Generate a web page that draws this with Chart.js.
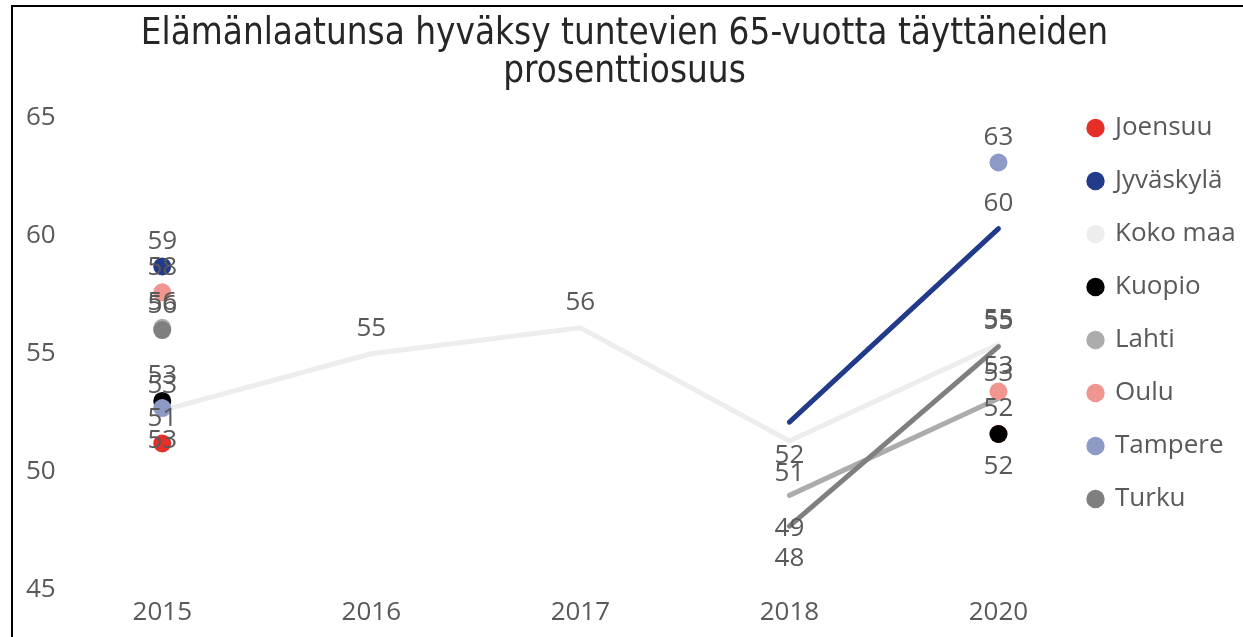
<!DOCTYPE html>
<html>
<head>
<meta charset="utf-8">
<script src="https://cdn.jsdelivr.net/npm/chart.js@4.4.1/dist/chart.umd.min.js"></script>
<style>
  html, body { margin: 0; padding: 0; background: #fff; }
  #frame {
    position: absolute; left: 11px; top: 5px;
    width: 1230px; height: 630px;
    border-left: 2px solid #000; border-top: 2px solid #000;
  }
  canvas { display: block; }
</style>
</head>
<body>
<div id="frame"><canvas id="chart" width="1230" height="630"></canvas></div>
<script>
// Categories and values
const years = ["2015", "2016", "2017", "2018", "2020"]
const joensuu = [51.2, null, null, null, 51.6]
const jyvaskyla = [58.7, null, null, 52.1, 60.3]
const kokoMaa = [52.6, 55.0, 56.1, 51.3, 55.4]
const kuopio = [53.0, null, null, null, 51.6]
const lahti = [56.1, null, null, 49.0, 53.1]
const oulu = [57.6, null, null, null, 53.4]
const tampere = [52.7, null, null, null, 63.1]
const turku = [56.0, null, null, 47.7, 55.3]
const yTicks = [45, 50, 55, 60, 65]

const seriesNames = ["Joensuu", "Jyväskylä", "Koko maa", "Kuopio", "Lahti", "Oulu", "Tampere", "Turku"]
const seriesValues = [joensuu, jyvaskyla, kokoMaa, kuopio, lahti, oulu, tampere, turku]
const seriesColors = ["#E5302A", "#213A8A", "#EDEDED", "#000000", "#ACACAC", "#F0958F", "#8D9AC6", "#7F7F7F"]

// which data labels sit under their point instead of above
const labelsBelow = {
  "Tampere": [0],
  "Jyväskylä": [3],
  "Koko maa": [3],
  "Lahti": [3],
  "Turku": [3],
  "Joensuu": [4],
}

const labelFont = "Open Sans"
const textGrey = "#595959"

// markers only where a value has no neighbour to join to
function isolatedRadius(ctx) {
  const d = ctx.dataset.data
  const i = ctx.dataIndex
  if (d[i] == null) return 0
  return d[i - 1] == null && d[i + 1] == null ? 9 : 0
}

const datasets = seriesNames.map((name, i) => ({
  label: name,
  data: seriesValues[i],
  borderColor: seriesColors[i],
  backgroundColor: seriesColors[i],
  pointBackgroundColor: seriesColors[i],
  pointBorderWidth: 0,
  pointStyle: "circle",
  pointRadius: isolatedRadius,
  pointHoverRadius: isolatedRadius,
  borderWidth: 5,
  borderCapStyle: "round",
  spanGaps: false,
  order: seriesNames.length - i, // later series painted on top
}))

// value labels drawn over the marks
const valueLabels = {
  id: "valueLabels",
  afterDatasetsDraw(chart) {
    const ctx = chart.ctx
    ctx.save()
    ctx.font = "26px '" + labelFont + "'"
    ctx.fillStyle = textGrey
    ctx.textAlign = "center"
    ctx.textBaseline = "middle"
    chart.data.datasets.forEach((ds, di) => {
      const meta = chart.getDatasetMeta(di)
      const below = labelsBelow[ds.label] || []
      ds.data.forEach((v, i) => {
        if (v == null) return
        const pt = meta.data[i]
        const dy = below.includes(i) ? 33 : -25
        ctx.fillText(String(Math.round(v)), pt.x, pt.y + dy)
      })
    })
    ctx.restore()
  }
}

// pull the legend in next to the last category and centre the title a bit left, like the original
const layoutNudge = {
  id: "layoutNudge",
  afterLayout(chart) {
    const lg = chart.legend
    lg.left -= 41
    lg.right = chart.width
    lg.width = lg.right - lg.left
    lg.top += 81
    lg.bottom += 81
    const tb = chart.titleBlock
    tb.left -= 9
    tb.right -= 9
  }
}

new Chart(document.getElementById("chart"), {
  type: "line",
  data: { labels: years, datasets: datasets },
  plugins: [valueLabels, layoutNudge],
  options: {
    responsive: false,
    animation: false,
    devicePixelRatio: 1,
    layout: { padding: { left: 11, right: 0, top: 0, bottom: 2 } },
    plugins: {
      title: {
        display: true,
        text: ["Elämänlaatunsa hyväksy tuntevien 65-vuotta täyttäneiden", "prosenttiosuus"],
        color: "#262626",
        font: { family: "'DejaVu Sans Condensed', 'Liberation Sans Narrow', sans-serif", size: 36.5, weight: "normal", lineHeight: 1.05 },
        padding: { top: 8, bottom: 26 },
      },
      legend: {
        position: "right",
        align: "start",
        maxWidth: 140,
        labels: {
          usePointStyle: true,
          pointStyle: "circle",
          boxWidth: 13,
          boxHeight: 13,
          padding: 27,
          color: textGrey,
          font: { family: labelFont, size: 26 },
          sort: (a, b) => a.datasetIndex - b.datasetIndex,
        },
      },
      tooltip: { enabled: false },
    },
    scales: {
      x: {
        offset: true,
        grid: { display: false, drawTicks: false },
        border: { display: false },
        ticks: { color: textGrey, font: { family: labelFont, size: 26 }, padding: 7 },
      },
      y: {
        min: yTicks[0],
        max: yTicks[yTicks.length - 1],
        afterBuildTicks(scale) {
          scale.ticks = yTicks.map(v => ({ value: v }))
        },
        grid: { display: false, drawTicks: false },
        border: { display: false },
        ticks: { color: textGrey, font: { family: labelFont, size: 26 }, padding: 2 },
      },
    },
  },
})
</script>
</body>
</html>
